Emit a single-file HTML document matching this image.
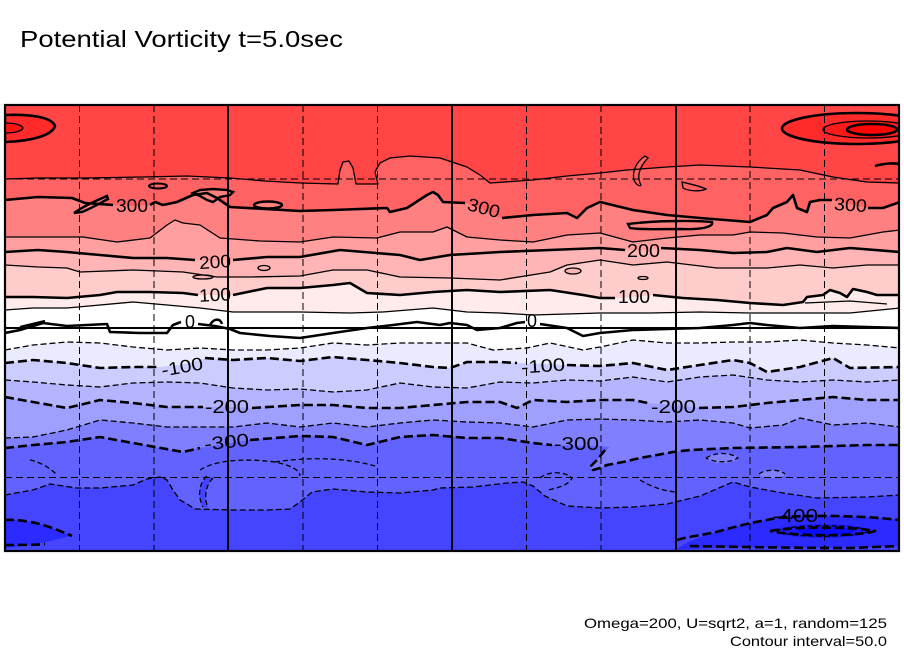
<!DOCTYPE html>
<html>
<head>
<meta charset="utf-8">
<style>
html,body{margin:0;padding:0;background:#fff;}
svg{display:block;}
text{font-family:"Liberation Sans",sans-serif;fill:#000;}
</style>
</head>
<body>
<svg width="904" height="654" viewBox="0 0 904 654" xmlns="http://www.w3.org/2000/svg">
<defs>
<clipPath id="pc"><rect x="5" y="105" width="894" height="446"/></clipPath>
</defs>

<text x="20" y="47" font-size="23" textLength="323" lengthAdjust="spacingAndGlyphs">Potential Vorticity t=5.0sec</text>

<g clip-path="url(#pc)">
<rect x="5" y="105" width="894" height="446" fill="#ff4545"/>
<path fill="#ff6262" d="M5,179 L40,178 87,178 143,177 187,176 230,178 265,181 300,183 338,184 340,170 343,162 349,161 353,168 356,184 378,184 375,172 380,163 390,158 410,156 440,158 467,167 480,175 490,183 533,180 567,176 600,173 627,170 667,167 700,165 750,167 800,170 833,177 867,182 900,183 L900,552 L5,552Z"/>
<path fill="#ff8080" d="M5,200 L38,197 72,198 85,203 113,205 130,206 150,205 155,202 163,205 177,202 193,195 207,193 217,198 230,207 265,209 300,211 333,210 387,208 390,212 407,208 427,195 433,192 438,195 443,202 467,203 483,210 500,218 533,215 567,213 577,218 587,208 600,202 633,210 667,215 700,218 750,222 767,215 773,208 787,202 793,195 797,208 807,212 810,202 820,200 833,200 850,204 870,208 883,208 900,202 L900,552 L5,552Z"/>
<path fill="#ff9f9f" d="M5,237 L83,237 117,242 150,238 167,225 175,220 183,223 200,225 220,238 260,241 300,242 333,237 377,238 400,232 433,232 447,227 467,237 500,240 533,242 567,235 600,233 633,242 667,238 700,235 733,235 750,232 783,233 817,237 850,238 883,232 900,230 L900,552 L5,552Z"/>
<path fill="#ffb5b5" d="M5,252 L38,250 67,252 100,255 133,258 167,258 190,260 210,261 233,260 267,257 300,257 340,250 400,255 420,260 450,255 500,252 550,250 600,248 625,250 643,250 660,248 700,250 733,253 767,252 787,248 817,252 850,248 900,252 L900,552 L5,552Z"/>
<path fill="#ffcccc" d="M5,265 L38,267 67,268 80,272 133,270 183,272 217,277 250,277 300,276 333,270 367,270 400,277 450,278 500,280 550,272 567,265 600,260 633,265 667,262 717,268 767,268 800,265 833,268 867,265 900,265 L900,552 L5,552Z"/>
<path fill="#ffebeb" d="M5,297 L33,297 67,298 100,295 117,292 150,292 183,293 198,295 215,295 233,295 267,288 300,288 333,285 350,283 367,293 400,295 433,292 467,290 500,292 550,290 583,295 600,298 615,298 635,297 653,295 683,298 717,300 750,303 783,305 803,302 807,297 823,295 830,290 840,293 847,297 853,289 867,292 877,295 900,295 L900,552 L5,552Z"/>
<path fill="#ffffff" d="M5,310 L33,308 67,308 100,305 133,302 167,305 200,308 233,312 300,312 350,313 383,312 433,308 467,312 500,313 533,315 600,313 650,313 700,312 750,313 800,313 850,313 900,308 L900,552 L5,552Z"/>
<path fill="#ebebff" d="M5,350 L33,345 67,342 100,343 133,347 167,350 200,348 233,350 267,350 300,348 333,343 367,345 400,343 433,343 467,343 493,350 527,348 550,343 583,350 600,347 633,340 667,343 700,343 733,342 767,342 800,340 833,343 867,345 900,348 L900,552 L5,552Z"/>
<path fill="#ccccff" d="M5,363 L33,360 67,363 100,368 133,367 160,367 185,364 207,358 233,360 267,358 300,361 333,357 367,360 400,363 433,367 450,368 467,362 500,362 517,363 545,364 567,365 600,366 633,363 667,370 700,365 733,360 750,363 767,372 800,367 833,358 850,368 900,367 L900,552 L5,552Z"/>
<path fill="#b5b5ff" d="M5,380 L33,382 67,385 100,387 133,383 167,382 200,383 233,388 267,390 300,389 333,392 367,390 400,383 433,387 467,388 500,382 533,383 567,380 600,381 633,377 667,382 700,377 733,375 767,380 800,382 833,380 867,382 900,380 L900,552 L5,552Z"/>
<path fill="#9f9fff" d="M5,397 L33,402 67,408 100,400 133,403 167,407 203,407 230,407 253,408 300,405 333,405 367,408 400,408 433,405 467,402 500,402 517,408 533,400 567,402 600,400 633,400 648,403 675,405 700,408 733,407 767,403 800,400 833,397 867,400 900,400 L900,552 L5,552Z"/>
<path fill="#8080ff" d="M5,438 L33,437 67,430 100,420 133,423 167,427 200,427 233,427 267,423 300,427 333,423 367,427 400,423 433,420 467,422 500,423 533,427 567,420 600,419 633,420 667,422 700,420 733,423 750,428 783,425 800,418 833,425 867,423 900,427 L900,552 L5,552Z"/>
<path fill="#6262ff" d="M5,448 L33,445 67,442 100,437 133,443 183,452 200,448 225,444 250,440 300,436 333,437 367,445 400,437 433,435 467,438 500,438 533,443 552,445 580,446 600,446 610,447 597,460 590,467 593,470 600,468 607,465 623,462 640,458 657,455 673,452 690,450 733,448 800,447 867,445 900,445 L900,552 L5,552Z"/>
<path fill="#4545ff" d="M5,495 L33,490 50,484 77,488 100,488 133,485 147,479 160,477 167,480 173,490 180,500 187,504 195,509 233,510 267,510 290,509 300,502 312,492 333,489 367,492 400,493 433,490 440,488 473,487 507,483 523,482 533,486 545,496 567,506 600,508 633,507 667,504 700,496 733,482 750,487 783,493 817,498 867,497 900,495 L900,552 L5,552Z"/>

<path fill="#4545ff" d="M207,476 C198,484 198,498 203,507 L208,508 C204,498 205,486 213,478 Z"/>
<path fill="#6262ff" d="M540,478 C548,471 565,471 572,478 C568,486 556,488 548,490 C544,486 541,482 540,478 Z"/>
<ellipse cx="722" cy="458" rx="16" ry="5" fill="#8080ff"/>
<ellipse cx="772" cy="474" rx="13" ry="4" fill="#8080ff"/>

<path fill="#2b2bff" d="M5,520 C20,519 40,523 55,529 C65,533 70,535 72,536 C60,538 45,543 30,545 C20,546 10,548 5,548 Z"/>
<path fill="#2b2bff" d="M677,549 C690,540 705,535 720,531 C740,525 760,521 783,517 C817,515 850,516 880,518 L905,520 L905,546 C850,548 800,548 740,547 C710,547 690,550 677,549 Z"/>
<ellipse cx="823" cy="531" rx="47" ry="7" fill="#1c1cff"/>
<ellipse cx="826" cy="531" rx="28" ry="4" fill="#0c0cff"/>

<path fill="#ff2b2b" stroke="#000" stroke-width="2.6" d="M5,115 C30,114 52,117 55,126 C52,136 30,141 5,142 Z"/>
<path fill="#ff1414" stroke="#000" stroke-width="1.3" d="M5,123 C15,123 22,125 23,128 C22,131 15,133 5,133 Z"/>
<ellipse cx="857" cy="128.5" rx="75" ry="15.5" fill="#ff2b2b" stroke="#000" stroke-width="2.6"/>
<ellipse cx="868" cy="129.5" rx="45" ry="8.5" fill="#ff1a1a" stroke="#000" stroke-width="1.3"/>
<ellipse cx="872" cy="129.5" rx="25" ry="5.5" fill="#ff0505" stroke="#000" stroke-width="2.6"/>
<path fill="#ff6262" stroke="#000" stroke-width="1.3" d="M645,156 C636,162 632,172 634,180 C636,185 640,187 641,185 C637,178 638,168 648,158 Z"/>
<path fill="#ff8080" stroke="#000" stroke-width="2.4" d="M74,213 C85,205 98,200 107,196 L108,199 C100,203 92,208 82,212 Z"/>
<ellipse cx="158" cy="186" rx="9" ry="2.5" fill="#ff6262" stroke="#000" stroke-width="2"/>
<path fill="#ff8080" stroke="#000" stroke-width="2.4" d="M193,193 L200,190 L213,189 L227,190 L233,192 L230,195 L220,197 L213,202 L207,200 L200,196 Z"/>
<ellipse cx="268" cy="205" rx="14" ry="3.5" fill="#ff8080" stroke="#000" stroke-width="2.4"/>
<path fill="#ff8080" stroke="#000" stroke-width="2.4" d="M628,224 C650,221 690,220 712,222 C714,226 705,230 680,229 C660,229 640,230 630,228 Z"/>
<path fill="#ff6262" stroke="#000" stroke-width="1.3" d="M682,182 C690,184 700,186 706,189 C700,192 688,191 683,188 Z"/>
<path fill="none" stroke="#000" stroke-width="2.6" d="M875,166 C885,163 895,163 900,164"/>
<ellipse cx="203" cy="277" rx="10" ry="2" fill="#ffb5b5" stroke="#000" stroke-width="1.3"/>
<ellipse cx="573" cy="271" rx="8" ry="3" fill="#ffb5b5" stroke="#000" stroke-width="1.3"/>
<ellipse cx="264" cy="268" rx="6" ry="2.5" fill="#ffb5b5" stroke="#000" stroke-width="1.3"/>
<ellipse cx="643" cy="278" rx="5" ry="1.5" fill="#ffcccc" stroke="#000" stroke-width="1.3"/>
<path fill="none" stroke="#000" stroke-width="1.3" d="M805,303 L850,301 L887,304"/>

<g fill="none" stroke="#000" stroke-linejoin="round">
<polyline stroke-width="1.3" points="5,179 40,178 87,178 143,177 187,176 230,178 265,181 300,183 338,184 340,170 343,162 349,161 353,168 356,184 378,184 375,172 380,163 390,158 410,156 440,158 467,167 480,175 490,183 533,180 567,176 600,173 627,170 667,167 700,165 750,167 800,170 833,177 867,182 900,183"/>
<path stroke-width="2.6" d="M5,200 L38,197 72,198 85,203 113,205 M150,205 L155,202 163,205 177,202 193,195 207,193 217,198 230,207 265,209 300,211 333,210 387,208 390,212 407,208 427,195 433,192 438,195 443,202 465,203 M502,218 L533,215 567,213 577,218 587,208 600,202 633,210 667,215 700,218 750,222 767,215 773,208 787,202 793,195 797,208 807,212 810,202 820,200 832,200 M868,208 L883,208 900,202"/>
<polyline stroke-width="1.3" points="5,237 83,237 117,242 150,238 167,225 175,220 183,223 200,225 220,238 260,241 300,242 333,237 377,238 400,232 433,232 447,227 467,237 500,240 533,242 567,235 600,233 633,242 667,238 700,235 733,235 750,232 783,233 817,237 850,238 883,232 900,230"/>
<path stroke-width="2.6" d="M5,252 L38,250 67,252 100,255 133,258 167,258 195,260 M233,260 L267,257 300,257 340,250 400,255 420,260 450,255 500,252 550,250 600,248 625,250 M661,248 L700,250 733,253 767,252 787,248 817,252 850,248 900,252"/>
<polyline stroke-width="1.3" points="5,265 38,267 67,268 80,272 133,270 183,272 217,277 250,277 300,276 333,270 367,270 400,277 450,278 500,280 550,272 567,265 600,260 633,265 667,262 717,268 767,268 800,265 833,268 867,265 900,265"/>
<path stroke-width="2.6" d="M5,297 L33,297 67,298 100,295 117,292 150,292 183,293 198,295 M233,295 L267,288 300,288 333,285 350,283 367,293 400,295 433,292 467,290 500,292 550,290 583,295 600,298 615,298 M653,295 L683,298 717,300 750,303 783,305 803,302 807,297 823,295 830,290 840,293 847,297 853,289 867,292 877,295 900,295"/>
<polyline stroke-width="1.3" points="5,310 33,308 67,308 100,305 133,302 167,305 200,308 233,312 300,312 350,313 383,312 433,308 467,312 500,313 533,315 600,313 650,313 700,312 750,313 800,313 850,313 900,308"/>
<path stroke-width="2.6" d="M5,333 L20,330 43,323 67,326 107,324 110,332 140,333 167,333 173,325 181,322 M198,324 L215,326 230,329 240,333 270,336 300,338 333,333 367,328 393,325 417,322 440,325 450,323 467,325 477,330 500,328 517,323 525,322 M540,324 L567,328 583,336 600,333 633,330 667,329 700,328 733,325 750,323 767,325 800,328 833,326 867,327 900,328"/>
<path stroke-width="2.4" d="M20,327 L45,321 M210,325 C214,318 220,318 222,324"/>
</g>

<g fill="none" stroke="#000" stroke-linejoin="round">
<polyline stroke-width="1.3" stroke-dasharray="6 3" points="5,350 33,345 67,342 100,343 133,347 167,350 200,348 233,350 267,350 300,348 333,343 367,345 400,343 433,343 467,343 493,350 527,348 550,343 583,350 600,347 633,340 667,343 700,343 733,342 767,342 800,340 833,343 867,345 900,348"/>
<path stroke-width="2.6" stroke-dasharray="9 4" d="M5,363 L33,360 67,363 100,368 133,367 160,367 M205,358 L233,360 267,358 300,361 333,357 367,360 400,363 433,367 450,368 467,362 500,362 517,363 M567,365 L600,366 633,363 667,370 700,365 733,360 750,363 767,372 800,367 833,358 850,368 900,367"/>
<polyline stroke-width="1.3" stroke-dasharray="6 3" points="5,380 33,382 67,385 100,387 133,383 167,382 200,383 233,388 267,390 300,389 333,392 367,390 400,383 433,387 467,388 500,382 533,383 567,380 600,381 633,377 667,382 700,377 733,375 767,380 800,382 833,380 867,382 900,380"/>
<path stroke-width="2.6" stroke-dasharray="9 4" d="M5,397 L33,402 67,408 100,400 133,403 167,407 203,407 M252,408 L300,405 333,405 367,408 400,408 433,405 467,402 500,402 517,408 533,400 567,402 600,400 633,400 648,403 M699,408 L733,407 767,403 800,400 833,397 867,400 900,400"/>
<polyline stroke-width="1.3" stroke-dasharray="6 3" points="5,438 33,437 67,430 100,420 133,423 167,427 200,427 233,427 267,423 300,427 333,423 367,427 400,423 433,420 467,422 500,423 533,427 567,420 600,419 633,420 667,422 700,420 733,423 750,428 783,425 800,418 833,425 867,423 900,427"/>
<path stroke-width="2.6" stroke-dasharray="9 4" d="M5,448 L33,445 67,442 100,437 133,443 183,452 200,448 M250,440 L300,436 333,437 367,445 400,437 433,435 467,438 500,438 533,443 552,445 M605,450 L597,460 590,467 593,470 600,468 607,465 623,462 640,458 657,455 673,452 690,450 733,448 800,447 867,445 900,445"/>
<polyline stroke-width="1.3" stroke-dasharray="6 3" points="5,495 33,490 50,484 77,488 100,488 133,485 147,479 160,477 167,480 173,490 180,500 187,504 195,509 233,510 267,510 290,509 300,502 312,492 333,489 367,492 400,493 433,490 440,488 473,487 507,483 523,482 533,486 545,496 567,506 600,508 633,507 667,504 700,496 733,482 750,487 783,493 817,498 867,497 900,495"/>
<path stroke-width="1.3" stroke-dasharray="5 3" d="M207,476 C198,484 198,498 203,507 M213,478 C205,486 204,498 208,508 M200,470 C215,460 245,458 275,462 C290,465 300,470 300,476 M275,462 C300,458 340,456 375,466 M30,460 C40,462 50,468 56,474 M540,478 C548,471 565,471 572,478 C568,486 556,488 548,490 M706,458 C715,452 730,452 738,458 C730,463 715,463 706,458 M759,474 C765,469 780,469 785,474 M640,480 C650,486 660,490 675,492"/>
<path stroke-width="2.6" stroke-dasharray="9 4" d="M5,520 C20,519 40,523 55,529 C65,533 70,535 72,536 M5,545 C20,545 35,545 45,544 M677,540 C690,536 705,535 720,531 C740,525 760,521 783,517 C817,515 850,516 880,518 L900,520 M690,546 C740,547 800,548 850,548 L900,546 M770,531 C790,527 850,526 875,531 C860,536 800,537 770,531"/>
<path stroke-width="1.3" stroke-dasharray="5 3" d="M776,531 C790,524 856,524 870,531 C856,538 790,538 776,531"/>
</g>
</g>

<g fill="none" stroke="#000" stroke-width="1" stroke-dasharray="7 4">
<line x1="79.5" y1="105" x2="79.5" y2="551"/>
<line x1="154" y1="105" x2="154" y2="551"/>
<line x1="303" y1="105" x2="303" y2="551"/>
<line x1="377.5" y1="105" x2="377.5" y2="551"/>
<line x1="526.5" y1="105" x2="526.5" y2="551"/>
<line x1="601" y1="105" x2="601" y2="551"/>
<line x1="750" y1="105" x2="750" y2="551"/>
<line x1="824.5" y1="105" x2="824.5" y2="551"/>
<line x1="5" y1="179" x2="899" y2="179"/>
<line x1="5" y1="477.5" x2="899" y2="477.5"/>
</g>
<g stroke="#000" stroke-width="2">
<line x1="228" y1="105" x2="228" y2="551"/>
<line x1="452" y1="105" x2="452" y2="551"/>
<line x1="676" y1="105" x2="676" y2="551"/>
<line x1="5" y1="328" x2="899" y2="328"/>
</g>
<rect x="5" y="105" width="894" height="446" fill="none" stroke="#000" stroke-width="2.2"/>

<g font-size="18">
<text x="116" y="212" textLength="32" lengthAdjust="spacingAndGlyphs">300</text>
<text x="467" y="214" textLength="33" lengthAdjust="spacingAndGlyphs" transform="rotate(15 483 209)">300</text>
<text x="834" y="211" textLength="33" lengthAdjust="spacingAndGlyphs" transform="rotate(4 850 205)">300</text>
<text x="199" y="268" textLength="32" lengthAdjust="spacingAndGlyphs" transform="rotate(-4 215 262)">200</text>
<text x="627" y="257" textLength="33" lengthAdjust="spacingAndGlyphs">200</text>
<text x="199" y="301" textLength="32" lengthAdjust="spacingAndGlyphs" transform="rotate(-3 215 295)">100</text>
<text x="618" y="303" textLength="32" lengthAdjust="spacingAndGlyphs">100</text>
<text x="185" y="328" textLength="10" lengthAdjust="spacingAndGlyphs">0</text>
<text x="527" y="327" textLength="10" lengthAdjust="spacingAndGlyphs">0</text>
<text x="161" y="373" textLength="42" lengthAdjust="spacingAndGlyphs" transform="rotate(-10 182 366)">-100</text>
<text x="521" y="372" textLength="44" lengthAdjust="spacingAndGlyphs" transform="rotate(-4 543 365)">-100</text>
<text x="205" y="413" textLength="44" lengthAdjust="spacingAndGlyphs">-200</text>
<text x="651" y="413" textLength="45" lengthAdjust="spacingAndGlyphs">-200</text>
<text x="204" y="448" textLength="45" lengthAdjust="spacingAndGlyphs" transform="rotate(-6 227 441)">-300</text>
<text x="554" y="450" textLength="45" lengthAdjust="spacingAndGlyphs">-300</text>
<text x="773" y="522" textLength="45" lengthAdjust="spacingAndGlyphs">-400</text>
</g>

<text x="584" y="628" font-size="14" textLength="303" lengthAdjust="spacingAndGlyphs">Omega=200, U=sqrt2, a=1, random=125</text>
<text x="730" y="646" font-size="14" textLength="157" lengthAdjust="spacingAndGlyphs">Contour interval=50.0</text>
</svg>
</body>
</html>
